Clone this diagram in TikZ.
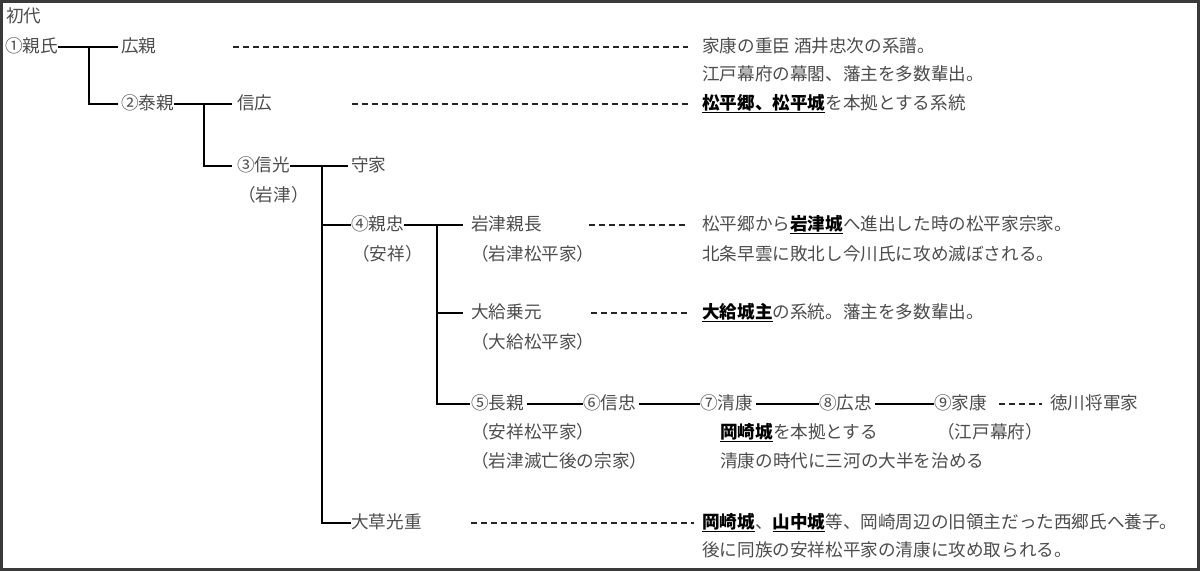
\documentclass[tikz,border=0pt]{standalone}
\usepackage{fontspec}
\newfontfamily\jp{Noto Sans CJK JP}
\definecolor{txtgray}{HTML}{4C4C4C}
\definecolor{bordergray}{HTML}{3A3A3A}
\newcommand{\keyt}[1]{\textcolor{black}{\textbf{\underline{#1}}}}
\tikzset{
  txt/.style={anchor=west, inner sep=0pt, text=txtgray, font=\jp\fontsize{17.6}{17.6}\selectfont, text height=14pt, text depth=3pt},
  link/.style={line width=1.4pt, black},
  dline/.style={line width=1.6pt, dash pattern=on 6pt off 4pt, black!85},
  frame/.style={line width=2.6pt, bordergray}
}
\begin{document}
\begin{tikzpicture}[x=1pt,y=-1pt]
\useasboundingbox (0,0) rectangle (1200,571);
\draw[frame] (1.3,1.3) rectangle (1198.7,569.7);
% genealogy names
\node[txt] (shodai) at (6,17) {初代};
\node[txt] (n1) at (5,47) {①親氏};
\node[txt] (hirochika) at (121,47) {広親};
\node[txt] (n2) at (121,104) {②泰親};
\node[txt] (nobuhiro) at (237,104) {信広};
\node[txt] (n3) at (237,166) {③信光};
\node[txt] (iwatsu) at (238,196) {（岩津）};
\node[txt] (moriie) at (351,166) {守家};
\node[txt] (n4) at (351,225) {④親忠};
\node[txt] (anjo) at (352,255) {（安祥）};
\node[txt] (chikanaga) at (471,225) {岩津親長};
\node[txt] (iwatsuM) at (471,255) {（岩津松平家）};
\node[txt] (norimoto) at (471,313) {大給乗元};
\node[txt] (ogyuM) at (471,343) {（大給松平家）};
\node[txt] (n5) at (471,404) {⑤長親};
\node[txt] (anjoM) at (471,433) {（安祥松平家）};
\node[txt] (soke) at (471,462) {（岩津滅亡後の宗家）};
\node[txt] (n6) at (583,404) {⑥信忠};
\node[txt] (n7) at (700,404) {⑦清康};
\node[txt] (n8) at (819,404) {⑧広忠};
\node[txt] (n9) at (934,404) {⑨家康};
\node[txt] (tokugawa) at (1050,404) {徳川将軍家};
\node[txt] (okazaki) at (720,433) {\keyt{岡崎城}を本拠とする};
\node[txt] (mikawa) at (720,462) {清康の時代に三河の大半を治める};
\node[txt] (edo) at (937,433) {（江戸幕府）};
\node[txt] (okusa) at (351,523) {大草光重};
% descriptions
\node[txt] (d1) at (702,47) {家康の重臣 酒井忠次の系譜。};
\node[txt] (d1b) at (702,75) {江戸幕府の幕閣、藩主を多数輩出。};
\node[txt] (d2) at (702,104) {\keyt{松平郷、松平城}を本拠とする系統};
\node[txt] (d3) at (702,225) {松平郷から\keyt{岩津城}へ進出した時の松平家宗家。};
\node[txt] (d3b) at (702,255) {北条早雲に敗北し今川氏に攻め滅ぼされる。};
\node[txt] (d4) at (702,313) {\keyt{大給城主}の系統。藩主を多数輩出。};
\node[txt] (d5) at (702,523) {\keyt{岡崎城}、\keyt{山中城}等、岡崎周辺の旧領主だった西郷氏へ養子。};
\node[txt] (d5b) at (702,551) {後に同族の安祥松平家の清康に攻め取られる。};
% junctions
\coordinate (j1) at (89,47);
\coordinate (j2) at (204,104);
\coordinate (j3) at (322,166);
\coordinate (j4) at (437,225);
% solid connectors
\draw[link] (n1.east) -- ([xshift=-3pt]hirochika.west);
\draw[link] (j1) |- ([xshift=-3pt]n2.west);
\draw[link] (n2.east) -- ([xshift=-5pt]nobuhiro.west);
\draw[link] (j2) |- ([xshift=-5pt]n3.west);
\draw[link] (n3.east) -- ([xshift=-3pt]moriie.west);
\draw[link] (j3) |- (n4.west);
\draw[link] (j3) |- (okusa.west);
\draw[link] (n4.east) -- ([xshift=-8pt]chikanaga.west);
\draw[link] (j4) |- ([xshift=-8pt]norimoto.west);
\draw[link] (j4) |- ([xshift=-1pt]n5.west);
\draw[link] ([xshift=3pt]n5.east) -- (n6.west);
\draw[link] ([xshift=3pt]n6.east) -- (n7.west);
\draw[link] ([xshift=3pt]n7.east) -- (n8.west);
\draw[link] ([xshift=3pt]n8.east) -- (n9.west);
% dashed connectors
\draw[dline] (233,47) coordinate (s1) -- ([xshift=-14pt]d1.west);
\draw[dline] ([xshift=79pt]nobuhiro.east) -- ([xshift=-14pt]d2.west);
\draw[dline] ([xshift=47pt]chikanaga.east) -- ([xshift=-14pt]d3.west);
\draw[dline] ([xshift=49pt]norimoto.east) -- ([xshift=-14pt]d4.west);
\draw[dline] ([xshift=49pt]okusa.east) -- ([xshift=-8pt]d5.west);
\draw[dline] ([xshift=12pt]n9.east) -- ([xshift=-8pt]tokugawa.west);
\end{tikzpicture}
\end{document}
